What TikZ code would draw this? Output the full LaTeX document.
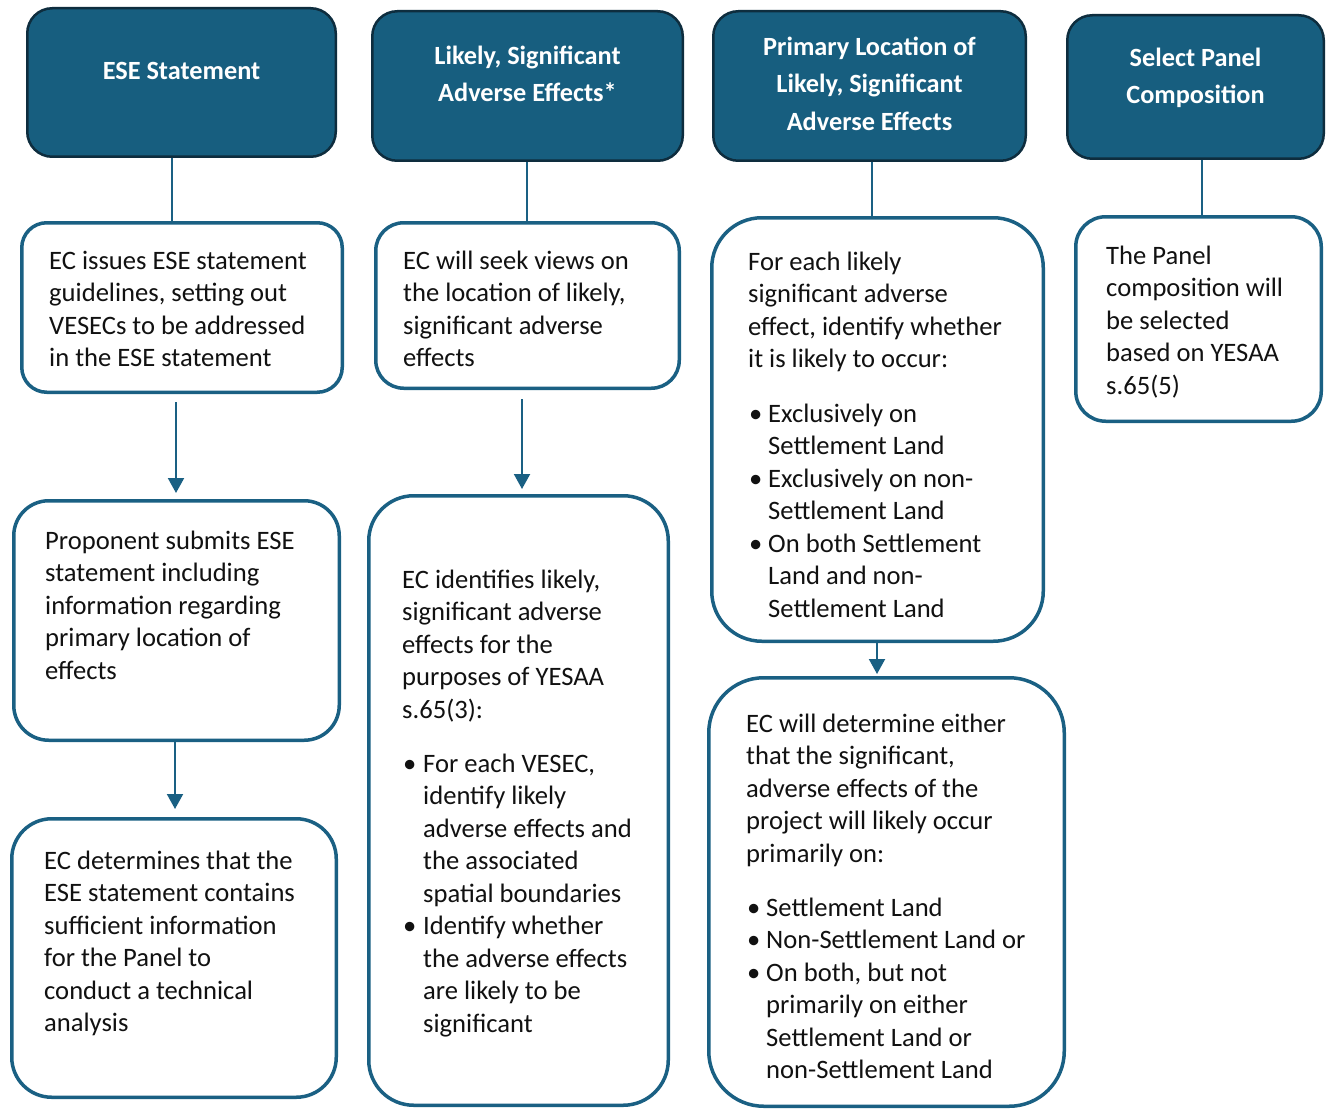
\documentclass[tikz,border=0pt]{standalone}
\usepackage{fontspec}
\setmainfont{Carlito}
\usetikzlibrary{arrows.meta}
\definecolor{teal1}{HTML}{1A6083}
\definecolor{hfill}{HTML}{175E7F}
\definecolor{hline}{HTML}{0E2D3E}
\definecolor{ink}{HTML}{111111}
\newcommand\fs{\rule{0pt}{24pt}}
\newcommand\bul{\makebox[21pt][l]{\hspace{1pt}•}}
\newcommand\ind{\hspace*{21pt}}
\newcommand\bulc{\makebox[20pt][l]{\hspace{1pt}•}}
\newcommand\indc{\hspace*{20pt}}
\begin{document}
\begin{tikzpicture}[x=1pt,y=-1pt,
  hbox/.style={draw=hline, line width=2.5pt, fill=hfill, rounded corners=25pt, inner sep=0pt},
  wbox/.style={draw=teal1, line width=3.5pt, fill=white, rounded corners=#1, inner sep=0pt},
  htxt/.style={anchor=north, inner sep=0pt, align=center, text=white,
    font=\bfseries\fontsize{26.3}{37.5}\selectfont, execute at begin node=\fs},
  btxt/.style={anchor=north west, inner sep=0pt, align=left, text=ink,
    font=\fontsize{26.6}{32.5}\selectfont, execute at begin node=\fs},
  conn/.style={draw=teal1, line width=2pt},
  arr/.style={draw=teal1, line width=2pt, -{Triangle[width=16pt,length=15pt]}}]
\useasboundingbox (0,0) rectangle (1327,1110);
\fill[white] (0,0) rectangle (1327,1110);

% headers
\node[hbox, minimum width=308.5pt, minimum height=148.5pt] (h1) at (181.5,82.5) {};
\node[hbox, minimum width=310.5pt, minimum height=149.5pt] (h2) at (527.5,86) {};
\node[hbox, minimum width=312.5pt, minimum height=149.5pt] (h3) at (869.5,86) {};
\node[hbox, minimum width=256.5pt, minimum height=143.5pt] (h4) at (1195.5,87) {};

\node[htxt] (ht1) at (181.5,55.5) {ESE Statement};
\node[htxt] (ht2) at (527.5,45.5) {Likely, Significant\\Adverse Effects*};
\node[htxt] (ht3) at (869.5,36.5) {Primary Location of\\Likely, Significant\\Adverse Effects};
\node[htxt] (ht4) at (1195.5,47.5) {Select Panel\\Composition};

% white boxes
\node[wbox=25pt, minimum width=320.5pt, minimum height=169.5pt] (b11) at (182,307.5) {};
\node[wbox=35pt, minimum width=325.5pt, minimum height=239.5pt] (b12) at (176.5,620.5) {};
\node[wbox=40pt, minimum width=324.5pt, minimum height=278.5pt] (b13) at (174,958) {};
\node[wbox=28pt, minimum width=303.5pt, minimum height=165.5pt] (b21) at (527.5,305.5) {};
\node[wbox=45pt, minimum width=299.5pt, minimum height=609.5pt] (b22) at (518.5,800.5) {};
\node[wbox=50pt, minimum width=331.5pt, minimum height=423.5pt] (b31) at (877.5,429.5) {};
\node[wbox=55pt, minimum width=355.5pt, minimum height=428.5pt] (b32) at (886.5,892) {};
\node[wbox=30pt, minimum width=245.5pt, minimum height=204.5pt] (b41) at (1198.5,319) {};

% texts
\node[btxt] (t11) at (49,250.5) {EC issues ESE statement\\guidelines, setting out\\VESECs to be addressed\\in the ESE statement};
\node[btxt] (t12) at (45,530.5) {Proponent submits ESE\\statement including\\information regarding\\primary location of\\effects};
\node[btxt] (t13) at (44,850.5) {EC determines that the\\ESE statement contains\\sufficient information\\for the Panel to\\conduct a technical\\analysis};
\node[btxt] (t21) at (403,250.5) {EC will seek views on\\the location of likely,\\significant adverse\\effects};
\node[btxt] (t22) at (402,569.5) {EC identifies likely,\\significant adverse\\effects for the\\purposes of YESAA\\s.65(3):\\[21.5pt]\bul For each VESEC,\\\ind identify likely\\\ind adverse effects and\\\ind the associated\\\ind spatial boundaries\\\bul Identify whether\\\ind the adverse effects\\\ind are likely to be\\\ind significant};
\node[btxt] (t31) at (748,251.5) {For each likely\\significant adverse\\effect, identify whether\\it is likely to occur:\\[22pt]\bulc Exclusively on\\\indc Settlement Land\\\bulc Exclusively on non-\\\indc Settlement Land\\\bulc On both Settlement\\\indc Land and non-\\\indc Settlement Land};
\node[btxt] (t32) at (746,713.5) {EC will determine either\\that the significant,\\adverse effects of the\\project will likely occur\\primarily on:\\[21.5pt]\bulc Settlement Land\\\bulc Non-Settlement Land or\\\bulc On both, but not\\\indc primarily on either\\\indc Settlement Land or\\\indc non-Settlement Land};
\node[btxt] (t41) at (1106,245.5) {The Panel\\composition will\\be selected\\based on YESAA\\s.65(5)};

% connector x positions
\coordinate (x1) at (172,0);
\coordinate (x2) at (527,0);
\coordinate (x3) at (872,0);
\coordinate (x4) at (1202,0);
\coordinate (a1) at (176,0);
\coordinate (a1b) at (175,0);
\coordinate (a2) at (522,0);
\coordinate (a3) at (877,0);

\draw[conn] (h1.south -| x1) -- (b11.north -| x1);
\draw[conn] (h2.south -| x2) -- (b21.north -| x2);
\draw[conn] (h3.south -| x3) -- (b31.north -| x3);
\draw[conn] (h4.south -| x4) -- (b41.north -| x4);

\draw[arr] ([yshift=-8pt]b11.south -| a1) -- ([yshift=6pt]b12.north -| a1);
\draw[arr] (b12.south -| a1b) -- ([yshift=8pt]b13.north -| a1b);
\draw[arr] ([yshift=-9pt]b21.south -| a2) -- ([yshift=5pt]b22.north -| a2);
\draw[arr] (b31.south -| a3) -- ([yshift=2pt]b32.north -| a3);
\end{tikzpicture}
\end{document}
